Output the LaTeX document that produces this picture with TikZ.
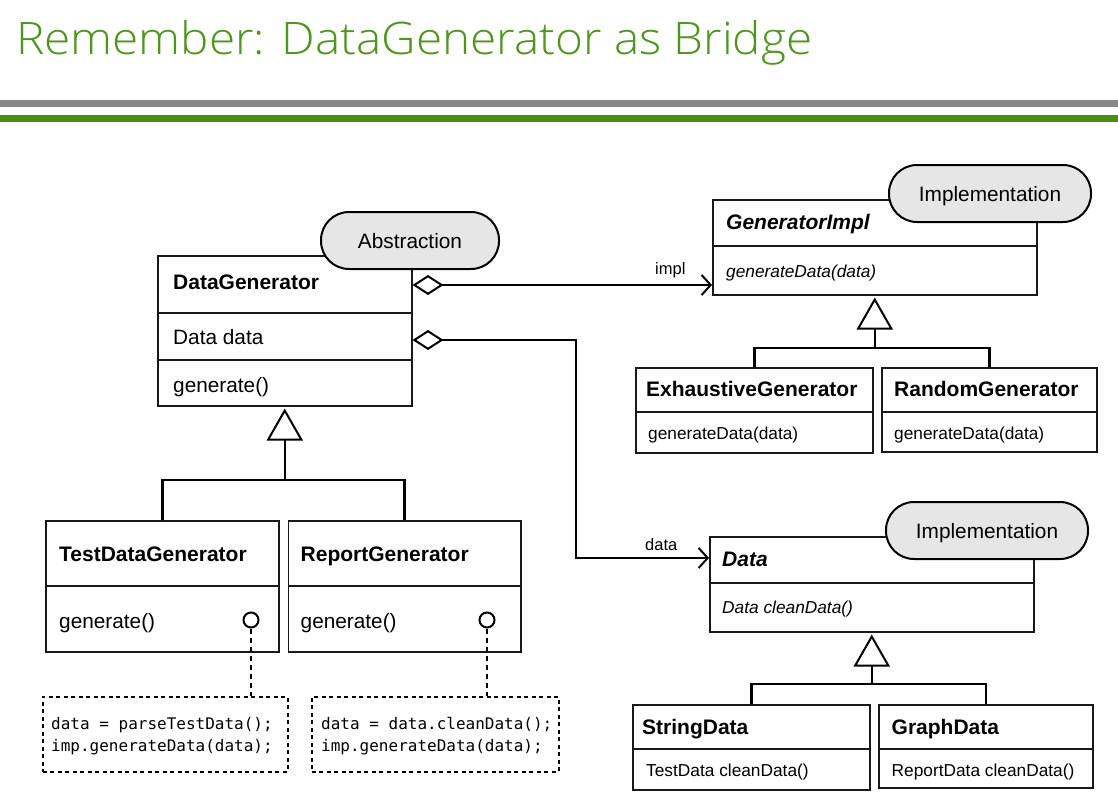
\documentclass[tikz,border=0pt]{standalone}
\usepackage{fontspec}
\setmainfont{Liberation Sans}
\newfontfamily\codefont{DejaVu Sans Mono}
\newfontfamily\titlefont[UprightFont={* Light}]{Open Sans}
\usetikzlibrary{arrows.meta}
\definecolor{titlegreen}{RGB}{78,150,28}
\definecolor{linegreen}{RGB}{74,140,20}
\definecolor{linegray}{RGB}{136,136,136}
\definecolor{pillgray}{RGB}{230,230,230}
\newcommand\mysz[1]{\fontsize{#1}{#1}\selectfont}
\begin{document}
\begin{tikzpicture}[x=1pt,y=-1pt,
  cbox/.style={draw=black!90, line width=1.5pt, anchor=north west, inner sep=0pt, fill=white},
  pill/.style={draw=black, line width=2pt, fill=pillgray, rounded corners=28pt, minimum width=202pt, minimum height=57pt, inner sep=0pt, font=\mysz{20.8}, text depth=0pt},
  cname/.style={anchor=base west, inner sep=0pt, font=\mysz{21}\bfseries},
  cnamei/.style={anchor=base west, inner sep=0pt, font=\mysz{21}\bfseries\itshape},
  attrL/.style={anchor=base west, inner sep=0pt, font=\mysz{20.8}},
  attrS/.style={anchor=base west, inner sep=0pt, font=\mysz{17.3}},
  attrSi/.style={anchor=base west, inner sep=0pt, font=\mysz{17.3}\itshape},
  lbl/.style={anchor=base west, inner sep=0pt, font=\mysz{16.5}},
  code/.style={anchor=base west, inner sep=0pt, font=\mysz{16}\codefont},
  divl/.style={draw=black!90, line width=1.5pt},
  conn/.style={draw=black, line width=2.5pt},
  assoc/.style={conn, {Diamond[fill=white,length=31pt,width=20pt,line width=2pt]}-{Straight Barb[length=9pt,width=20pt,line width=2pt]}},
  inh/.style={conn, -{Triangle[fill=white,length=32pt,width=36pt,line width=2pt]}},
  codebox/.style={draw=black, line width=1.5pt, dash pattern=on 4pt off 3.5pt, anchor=north west, inner sep=0pt},
  dashln/.style={draw=black, line width=1.5pt, dash pattern=on 5pt off 4pt},
  lolli/.style={circle, draw=black, line width=2pt, fill=white, minimum size=15pt, inner sep=0pt}
]
\useasboundingbox (0,0) rectangle (1118,808);

% title and rules
\node[anchor=base west, inner sep=0pt, text=titlegreen] (title) at (16,55)
  {\resizebox{796pt}{\height}{\titlefont\mysz{44.8}Remember: DataGenerator as Bridge}};
\fill[linegray] (0,100) rectangle (1118,106.5);
\fill[linegreen] (0,115) rectangle (1118,121.5);

% DataGenerator
\node[cbox, minimum width=254pt, minimum height=150pt] (dg) at (157,255) {};
\draw[divl] (dg.west |- 0,313) -- (dg.east |- 0,313);
\draw[divl] (dg.west |- 0,360) -- (dg.east |- 0,360);
\node[cname] (dgn) at (173,289.5) {DataGenerator};
\node[attrL] (dga) at (173,344.4) {Data data};
\node[attrL] (dgm) at (173,392.4) {generate()};
\node[pill, minimum width=178pt] (abs) at (410,240.5) {Abstraction};

% GeneratorImpl
\node[cbox, minimum width=324pt, minimum height=95pt] (gi) at (712,199) {};
\draw[divl] (gi.west |- 0,246) -- (gi.east |- 0,246);
\node[cnamei] (gin) at (726,229.5) {GeneratorImpl};
\node[attrSi] (gim) at (726,277.2) {generateData(data)};
\node[pill] (imp1) at (990,193.5) {Implementation};

% Exhaustive / Random
\node[cbox, minimum width=237pt, minimum height=85pt] (eg) at (635,367) {};
\draw[divl] (eg.west |- 0,412) -- (eg.east |- 0,412);
\node[cname] (egn) at (646,396.5) {ExhaustiveGenerator};
\node[attrS] (egm) at (648,439.2) {generateData(data)};
\node[cbox, minimum width=215pt, minimum height=84pt] (rndg) at (881,367) {};
\draw[divl] (rndg.west |- 0,412) -- (rndg.east |- 0,412);
\node[cname] (rndn) at (894,396.5) {RandomGenerator};
\node[attrS] (rndm) at (894,439.2) {generateData(data)};

% TestDataGenerator / ReportGenerator
\node[cbox, minimum width=233pt, minimum height=131pt] (tdg) at (45,520) {};
\draw[divl] (tdg.west |- 0,586) -- (tdg.east |- 0,586);
\node[cname] (tdgn) at (59,561.5) {TestDataGenerator};
\node[attrL] (tdgm) at (59,628.5) {generate()};
\node[cbox, minimum width=232.5pt, minimum height=131pt] (rg) at (287.5,520) {};
\draw[divl] (rg.west |- 0,586) -- (rg.east |- 0,586);
\node[cname] (rgn) at (300.5,561.5) {ReportGenerator};
\node[attrL] (rgm) at (300.5,628.5) {generate()};
\node[lolli] (l1) at (251,620) {};
\node[lolli] (l2) at (487,620) {};

% code boxes
\node[codebox, minimum width=245pt, minimum height=75pt] (cb1) at (42,696) {};
\node[codebox, minimum width=247pt, minimum height=75pt] (cb2) at (311,696) {};
\node[code] (c11) at (51,729) {data = parseTestData();};
\node[code] (c12) at (51,751.5) {imp.generateData(data);};
\node[code] (c21) at (321,729) {data = data.cleanData();};
\node[code] (c22) at (321,751.5) {imp.generateData(data);};
\draw[dashln] (l1.south) -- (l1.south |- cb1.north);
\draw[dashln] (l2.south) -- (l2.south |- cb2.north);

% Data
\node[cbox, minimum width=324pt, minimum height=95pt] (dtb) at (709,536) {};
\draw[divl] (dtb.west |- 0,583) -- (dtb.east |- 0,583);
\node[cnamei] (dtn) at (722,566.5) {Data};
\node[attrSi] (dtm) at (722,613.2) {Data cleanData()};
\node[pill] (imp2) at (987,530.5) {Implementation};

% StringData / GraphData
\node[cbox, minimum width=237pt, minimum height=85pt] (sd) at (632,704) {};
\draw[divl] (sd.west |- 0,749) -- (sd.east |- 0,749);
\node[cname] (sdn) at (642,734.5) {StringData};
\node[attrS] (sdm) at (646,776.2) {TestData cleanData()};
\node[cbox, minimum width=214pt, minimum height=83pt] (gd) at (878,704) {};
\draw[divl] (gd.west |- 0,749) -- (gd.east |- 0,749);
\node[cname] (gdn) at (891.5,734.5) {GraphData};
\node[attrS] (gdm) at (891.5,776.2) {ReportData cleanData()};

% associations
\draw[assoc] (dg.east |- 0,285) -- (gi.west |- 0,285);
\node[lbl] (impl) at (655,274.5) {impl};
\draw[assoc] (dg.east |- 0,340) -- (576,340) |- (dtb.west |- 0,558);
\node[lbl] (datal) at (645,550) {data};

% inheritance
\coordinate (j0) at (dg.south |- 0,480);
\draw[conn] (tdg.north) |- (j0) -| (rg.north);
\draw[inh] (j0) -- ([yshift=-2pt]dg.south);
\coordinate (j1) at (gi.south |- 0,348);
\draw[conn] (eg.north) |- (j1) -| (rndg.north);
\draw[inh] (j1) -- ([yshift=-2pt]gi.south);
\coordinate (j2) at (dtb.south |- 0,684);
\draw[conn] (sd.north) |- (j2) -| (gd.north);
\draw[inh] (j2) -- ([yshift=-2pt]dtb.south);
\end{tikzpicture}
\end{document}
